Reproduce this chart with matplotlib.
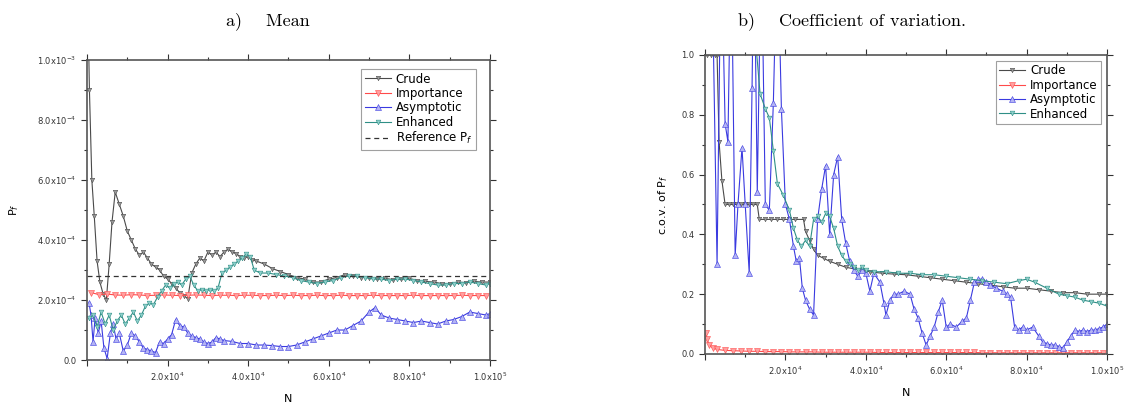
import matplotlib
matplotlib.use("Agg")
import matplotlib.pyplot as plt
from matplotlib.ticker import FuncFormatter, MultipleLocator
import numpy as np

# N in units of 1e4 samples, P_f in units of 1e-4
N_SCALE = 1e4
P_SCALE = 1e-4

# ---- a) running mean of P_f ----
crude_n = [0.02, 0.06, 0.12, 0.18, 0.25, 0.32, 0.40, 0.48, 0.55, 0.62, 0.70, 0.80, 0.90,
           1.00, 1.10, 1.20, 1.30, 1.40, 1.50, 1.60, 1.70, 1.80, 1.90, 2.00, 2.10, 2.20,
           2.30, 2.40, 2.50, 2.60, 2.70, 2.80, 2.90, 3.00, 3.10, 3.20, 3.30, 3.40, 3.50,
           3.60, 3.70, 3.80, 3.90, 4.00, 4.10, 4.20, 4.40, 4.60, 4.80, 5.00, 5.20, 5.40,
           5.60, 5.80, 6.00, 6.20, 6.40, 6.60, 6.80, 7.00, 7.20, 7.40, 7.60, 7.80, 8.00,
           8.20, 8.40, 8.60, 8.80, 9.00, 9.20, 9.40, 9.60, 9.80, 10.0]
crude_mean = [12.0, 9.0, 6.0, 4.8, 3.3, 2.6, 2.2, 2.0, 3.2, 4.6, 5.6, 5.2, 4.8,
              4.3, 4.0, 3.7, 3.5, 3.6, 3.4, 3.2, 3.1, 3.0, 2.8, 2.7, 2.55, 2.4,
              2.25, 2.15, 2.05, 2.9, 3.2, 3.4, 3.3, 3.6, 3.5, 3.6, 3.45, 3.6, 3.7,
              3.6, 3.55, 3.45, 3.4, 3.45, 3.35, 3.3, 3.2, 3.05, 2.95, 2.85, 2.75, 2.7,
              2.6, 2.6, 2.7, 2.75, 2.85, 2.8, 2.75, 2.75, 2.7, 2.72, 2.68, 2.7, 2.72,
              2.65, 2.62, 2.6, 2.55, 2.55, 2.6, 2.58, 2.62, 2.6, 2.6]

imp_n = [0.1, 0.3, 0.5, 0.7, 0.9, 1.1, 1.3, 1.5, 1.7, 1.9, 2.1, 2.3, 2.5, 2.7, 2.9,
         3.1, 3.3, 3.5, 3.7, 3.9, 4.1, 4.3, 4.5, 4.7, 4.9, 5.1, 5.3, 5.5, 5.7, 5.9,
         6.1, 6.3, 6.5, 6.7, 6.9, 7.1, 7.3, 7.5, 7.7, 7.9, 8.1, 8.3, 8.5, 8.7, 8.9,
         9.1, 9.3, 9.5, 9.7, 9.9]
imp_mean = [2.25, 2.18, 2.2, 2.17, 2.16, 2.18, 2.17, 2.15, 2.16, 2.17, 2.16, 2.15, 2.16,
            2.17, 2.16, 2.15, 2.16, 2.16, 2.15, 2.16, 2.16, 2.15, 2.15, 2.16, 2.15, 2.16,
            2.15, 2.15, 2.16, 2.15, 2.15, 2.16, 2.15, 2.15, 2.15, 2.16, 2.15, 2.15, 2.15,
            2.15, 2.16, 2.15, 2.15, 2.15, 2.15, 2.15, 2.16, 2.15, 2.15, 2.15]

asym_n = [0.05, 0.10, 0.15, 0.20, 0.28, 0.35, 0.42, 0.50, 0.58, 0.65, 0.72, 0.80, 0.90,
          1.00, 1.10, 1.20, 1.30, 1.40, 1.50, 1.60, 1.70, 1.80, 1.90, 2.00, 2.10, 2.20,
          2.30, 2.40, 2.50, 2.60, 2.70, 2.80, 2.90, 3.00, 3.10, 3.20, 3.30, 3.40, 3.60,
          3.80, 4.00, 4.20, 4.40, 4.60, 4.80, 5.00, 5.20, 5.40, 5.60, 5.80, 6.00, 6.20,
          6.40, 6.60, 6.80, 7.00, 7.15, 7.30, 7.50, 7.70, 7.90, 8.10, 8.30, 8.50, 8.70,
          8.90, 9.10, 9.30, 9.50, 9.70, 9.90, 10.0]
asym_mean = [1.9, 1.5, 0.6, 1.4, 0.9, 1.3, 0.4, 0.05, 0.9, 1.2, 0.7, 0.9, 0.3,
             0.5, 0.9, 0.8, 0.6, 0.4, 0.35, 0.3, 0.25, 0.6, 0.55, 0.7, 0.85, 1.35,
             1.15, 1.1, 0.9, 0.8, 0.75, 0.7, 0.6, 0.55, 0.6, 0.75, 0.7, 0.65, 0.62,
             0.55, 0.55, 0.5, 0.5, 0.48, 0.45, 0.45, 0.5, 0.6, 0.7, 0.8, 0.9, 1.0,
             1.0, 1.15, 1.3, 1.6, 1.75, 1.5, 1.4, 1.35, 1.3, 1.25, 1.3, 1.25, 1.2,
             1.3, 1.35, 1.45, 1.6, 1.55, 1.5, 1.55]

enh_n = [0.05, 0.15, 0.25, 0.35, 0.45, 0.55, 0.65, 0.75, 0.85, 0.95, 1.05, 1.15, 1.25,
         1.35, 1.45, 1.55, 1.65, 1.75, 1.85, 1.95, 2.05, 2.15, 2.25, 2.35, 2.45, 2.55,
         2.65, 2.75, 2.85, 2.95, 3.05, 3.15, 3.25, 3.35, 3.45, 3.55, 3.65, 3.75, 3.85,
         3.95, 4.05, 4.15, 4.3, 4.5, 4.7, 4.9, 5.1, 5.3, 5.5, 5.7, 5.9, 6.1, 6.3, 6.5,
         6.7, 6.9, 7.1, 7.3, 7.5, 7.7, 7.9, 8.1, 8.3, 8.5, 8.7, 8.9, 9.1, 9.3, 9.5,
         9.7, 9.9, 10.0]
enh_mean = [1.4, 1.5, 1.1, 1.6, 1.2, 1.5, 1.0, 1.3, 1.5, 1.2, 1.4, 1.6, 1.3,
            1.5, 1.8, 1.9, 1.85, 2.1, 2.3, 2.5, 2.4, 2.55, 2.6, 2.5, 2.7, 2.8,
            2.5, 2.3, 2.35, 2.3, 2.35, 2.3, 2.4, 2.9, 3.0, 3.1, 3.2, 3.3, 3.4,
            3.55, 3.45, 3.0, 2.9, 2.9, 2.85, 2.8, 2.75, 2.65, 2.6, 2.55, 2.6, 2.65, 2.75, 2.8,
            2.8, 2.75, 2.7, 2.7, 2.65, 2.7, 2.7, 2.65, 2.6, 2.55, 2.5, 2.5, 2.55, 2.55, 2.6,
            2.55, 2.5, 2.55]

reference_pf = 2.8

# ---- b) coefficient of variation ----
crude_cov_n = [0.05, 0.15, 0.25, 0.30, 0.35, 0.42, 0.50, 0.60, 0.70, 0.80, 0.90, 1.00, 1.10,
               1.20, 1.30, 1.35, 1.50, 1.65, 1.80, 1.95, 2.10, 2.25, 2.45, 2.50, 2.60, 2.70,
               2.80, 2.95, 3.10, 3.30, 3.50, 3.70, 3.90, 4.10, 4.40, 4.70, 5.00, 5.30, 5.60,
               5.90, 6.20, 6.50, 6.80, 7.10, 7.40, 7.70, 8.00, 8.30, 8.60, 8.90, 9.20, 9.50,
               9.80, 10.0]
crude_cov = [1.0, 1.0, 1.0, 1.0, 0.71, 0.58, 0.5, 0.5, 0.5, 0.5, 0.5, 0.5, 0.5,
             0.5, 0.5, 0.45, 0.45, 0.45, 0.45, 0.45, 0.45, 0.45, 0.45, 0.41, 0.38, 0.35,
             0.33, 0.32, 0.31, 0.30, 0.29, 0.285, 0.28, 0.275, 0.27, 0.267, 0.265, 0.26, 0.255,
             0.25, 0.245, 0.24, 0.235, 0.23, 0.225, 0.22, 0.22, 0.215, 0.21, 0.205, 0.205, 0.2,
             0.2, 0.2]

imp_cov_n = [0.02, 0.05, 0.1, 0.2, 0.3, 0.5, 0.7, 0.9, 1.1, 1.3, 1.5, 1.7, 1.9, 2.1, 2.3,
             2.5, 2.7, 2.9, 3.1, 3.3, 3.5, 3.7, 3.9, 4.1, 4.3, 4.5, 4.7, 4.9, 5.1, 5.3,
             5.5, 5.7, 5.9, 6.1, 6.3, 6.5, 6.7, 6.9, 7.1, 7.3, 7.5, 7.7, 7.9, 8.1, 8.3,
             8.5, 8.7, 8.9, 9.1, 9.3, 9.5, 9.7, 9.9]
imp_cov = [0.07, 0.05, 0.03, 0.02, 0.015, 0.012, 0.011, 0.01, 0.009, 0.009, 0.008, 0.008,
           0.008, 0.007, 0.007, 0.007, 0.007, 0.006, 0.006, 0.006, 0.006, 0.006, 0.006,
           0.006, 0.005, 0.005, 0.005, 0.005, 0.005, 0.005, 0.005, 0.005, 0.005, 0.005,
           0.005, 0.005, 0.005, 0.004, 0.004, 0.004, 0.004, 0.004, 0.004, 0.004, 0.004,
           0.004, 0.004, 0.004, 0.004, 0.004, 0.004, 0.004, 0.004]

asym_cov_n = [0.15, 0.30, 0.40, 0.50, 0.57, 0.65, 0.75, 0.82, 0.92, 1.00, 1.10, 1.17, 1.22,
              1.30, 1.40, 1.50, 1.60, 1.70, 1.80, 1.90, 2.00, 2.10, 2.20, 2.27, 2.35, 2.42,
              2.50, 2.60, 2.70, 2.80, 2.90, 3.00, 3.10, 3.20, 3.30, 3.40, 3.50, 3.60, 3.70,
              3.80, 3.90, 4.00, 4.10, 4.20, 4.35, 4.45, 4.50, 4.60, 4.70, 4.80, 4.95, 5.10,
              5.20, 5.30, 5.40, 5.50, 5.60, 5.70, 5.80, 5.90, 6.00, 6.10, 6.25, 6.40, 6.50,
              6.60, 6.70, 6.80, 6.90, 7.00, 7.10, 7.25, 7.40, 7.50, 7.60, 7.70, 7.80, 7.90,
              8.00, 8.15, 8.30, 8.40, 8.50, 8.60, 8.70, 8.80, 8.90, 9.00, 9.10, 9.20, 9.30,
              9.40, 9.50, 9.60, 9.70, 9.80, 9.90, 10.0]
asym_cov = [1.5, 0.3, 1.4, 0.77, 0.71, 1.4, 0.33, 0.5, 0.69, 0.5, 0.27, 0.89, 1.4,
            0.54, 1.4, 0.5, 0.48, 0.84, 1.4, 0.82, 0.5, 0.45, 0.36, 0.31, 0.32, 0.22,
            0.18, 0.15, 0.13, 0.45, 0.55, 0.63, 0.40, 0.60, 0.66, 0.45, 0.37, 0.31, 0.28,
            0.26, 0.28, 0.27, 0.21, 0.27, 0.24, 0.17, 0.13, 0.18, 0.2, 0.2, 0.21, 0.2,
            0.15, 0.12, 0.07, 0.03, 0.06, 0.09, 0.14, 0.18, 0.09, 0.1, 0.09, 0.11, 0.12,
            0.18, 0.24, 0.25, 0.25, 0.24, 0.23, 0.22, 0.21, 0.2, 0.19, 0.09, 0.08, 0.09,
            0.08, 0.09, 0.06, 0.04, 0.035, 0.03, 0.03, 0.025, 0.02, 0.04, 0.06, 0.08, 0.075,
            0.08, 0.075, 0.08, 0.08, 0.085, 0.09, 0.1]

enh_cov_n = [1.10, 1.37, 1.50, 1.60, 1.70, 1.80, 1.95, 2.10, 2.20, 2.30, 2.40, 2.50, 2.60,
             2.70, 2.80, 2.90, 3.00, 3.10, 3.20, 3.30, 3.40, 3.50, 3.60, 3.70, 3.80, 3.90,
             4.00, 4.20, 4.50, 4.80, 5.10, 5.40, 5.70, 6.00, 6.30, 6.60, 6.90, 7.20, 7.50,
             7.80, 8.00, 8.20, 8.50, 8.80, 9.00, 9.20, 9.40, 9.60, 9.80, 10.0]
enh_cov = [1.3, 0.87, 0.82, 0.79, 0.68, 0.57, 0.53, 0.48, 0.42, 0.38, 0.36, 0.38, 0.36,
           0.45, 0.46, 0.44, 0.47, 0.46, 0.42, 0.36, 0.33, 0.31, 0.30, 0.29, 0.28, 0.29,
           0.28, 0.275, 0.275, 0.27, 0.27, 0.265, 0.265, 0.26, 0.255, 0.25, 0.245, 0.24, 0.235,
           0.245, 0.25, 0.24, 0.22, 0.2, 0.195, 0.19, 0.18, 0.175, 0.17, 0.16]

# line colour, marker face colour, marker, marker size
STYLES = {
    "Crude": ("#4a4a4a", "#9a9a9a", "v", 3.2),
    "Importance": ("#ff4a4a", "#ffa0a0", "v", 4.6),
    "Asymptotic": ("#3a3ae0", "#b4b4f4", "^", 3.8),
    "Enhanced": ("#2f8f86", "#8fd0cc", "v", 3.4),
}

plt.rcParams["font.family"] = "DejaVu Sans"


def sci_label(v):
    if abs(v) < 1e-15:
        return "0.0"
    exp = int(np.floor(np.log10(abs(v)) + 1e-9))
    mant = v / 10 ** exp
    return r"$%.1f\mathrm{x}10^{%d}$" % (mant, exp)


def draw_series(ax, n, y, name, yscale=1.0):
    col, face, mk, ms = STYLES[name]
    ax.plot(np.array(n) * N_SCALE, np.array(y) * yscale, color=col, lw=0.8,
            marker=mk, ms=ms, mfc=face, mec=col, mew=0.4, label=name)


def style_axes(ax):
    ax.set_xlim(0, 10 * N_SCALE)
    ax.xaxis.set_major_locator(MultipleLocator(2 * N_SCALE))
    ax.xaxis.set_minor_locator(MultipleLocator(1 * N_SCALE))
    ax.xaxis.set_major_formatter(FuncFormatter(lambda v, p: "" if v == 0 else sci_label(v)))
    ax.tick_params(which="both", direction="out", top=True, right=True,
                   labelsize=6, colors="#333333", width=0.8)
    ax.tick_params(which="major", length=4)
    ax.tick_params(which="minor", length=2.5)
    for s in ax.spines.values():
        s.set_color("#555555")
        s.set_linewidth(1.2)
    ax.set_xlabel("N", fontsize=8, labelpad=8)


def add_legend(ax, anchor):
    leg = ax.legend(loc="upper right", fontsize=8.5, frameon=True, fancybox=False,
                    handlelength=2.2, borderpad=0.3, labelspacing=0.12,
                    handletextpad=0.4, bbox_to_anchor=anchor)
    leg.get_frame().set_edgecolor("#888888")
    leg.get_frame().set_linewidth(0.8)


fig = plt.figure(figsize=(11.3, 4.08), dpi=100)

# a) Mean
ax1 = fig.add_axes([0.077, 0.1176, 0.3566, 0.735])
draw_series(ax1, crude_n, crude_mean, "Crude", P_SCALE)
draw_series(ax1, imp_n, imp_mean, "Importance", P_SCALE)
draw_series(ax1, asym_n, asym_mean, "Asymptotic", P_SCALE)
draw_series(ax1, enh_n, enh_mean, "Enhanced", P_SCALE)
ax1.axhline(reference_pf * P_SCALE, color="#333333", lw=0.9, ls=(0, (4, 3)),
            label=r"Reference P$_f$")
style_axes(ax1)
ax1.set_ylim(0, 10 * P_SCALE)
ax1.yaxis.set_major_locator(MultipleLocator(2 * P_SCALE))
ax1.yaxis.set_minor_locator(MultipleLocator(1 * P_SCALE))
ax1.yaxis.set_major_formatter(FuncFormatter(lambda v, p: sci_label(v)))
ax1.set_ylabel(r"P$_f$", fontsize=8, labelpad=12)
add_legend(ax1, (0.98, 0.99))

# b) Coefficient of variation
ax2 = fig.add_axes([0.6239, 0.1324, 0.3558, 0.733])
draw_series(ax2, crude_cov_n, crude_cov, "Crude")
draw_series(ax2, imp_cov_n, imp_cov, "Importance")
draw_series(ax2, asym_cov_n, asym_cov, "Asymptotic")
draw_series(ax2, enh_cov_n, enh_cov, "Enhanced")
style_axes(ax2)
ax2.set_ylim(0, 1.0)
ax2.yaxis.set_major_locator(MultipleLocator(0.2))
ax2.yaxis.set_minor_locator(MultipleLocator(0.1))
ax2.yaxis.set_major_formatter(FuncFormatter(lambda v, p: "%.1f" % v))
ax2.set_ylabel(r"c.o.v. of P$_f$", fontsize=8, labelpad=8)
add_legend(ax2, (1.0, 1.0))

fig.text(0.237, 0.97, "a)    Mean", fontsize=13, family="cmr10", va="top", ha="center")
fig.text(0.754, 0.97, "b)    Coefficient of variation.", fontsize=13, family="cmr10",
         va="top", ha="center")

fig.savefig("out.png", dpi=100, facecolor="white")
